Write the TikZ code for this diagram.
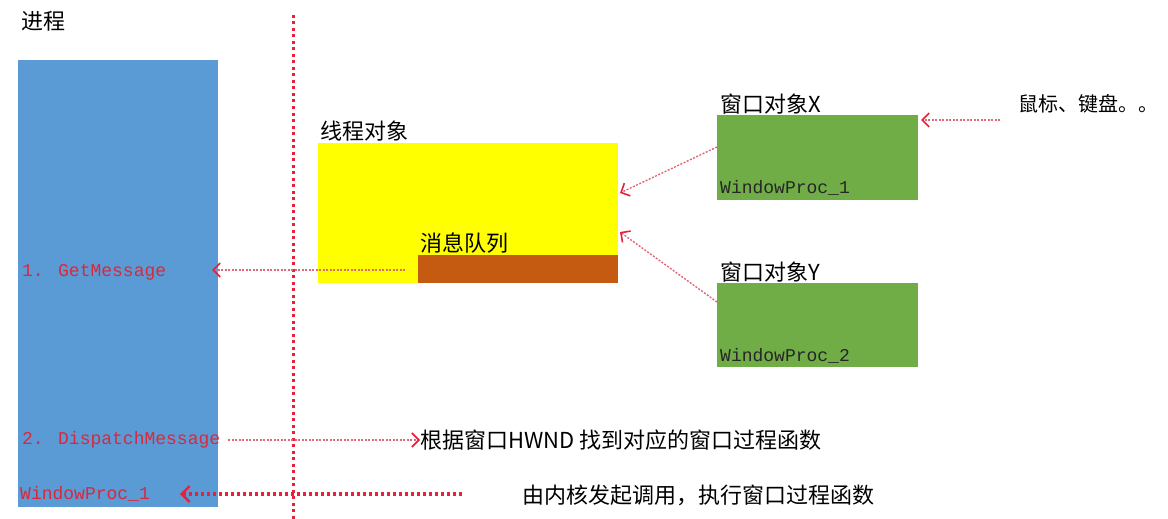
\documentclass[tikz,border=0pt]{standalone}
\usepackage{fontspec}
\newfontfamily\cjk{Noto Sans CJK SC}
\newfontfamily\mono{Liberation Mono}
\usetikzlibrary{arrows.meta}
\definecolor{procblue}{HTML}{5B9BD5}
\definecolor{thryellow}{HTML}{FFFF00}
\definecolor{qbrown}{HTML}{C55A11}
\definecolor{wgreen}{HTML}{70AD47}
\definecolor{lblred}{HTML}{D8283C}
\definecolor{arrred}{HTML}{E8203A}
\definecolor{linkpink}{HTML}{E06878}
\tikzset{
  box/.style={draw=none, inner sep=0pt, outer sep=0pt, anchor=north west},
  cjklabel/.style={inner sep=0pt, anchor=west, font=\cjk\fontsize{22}{24}\selectfont, text=black},
  monored/.style={inner sep=0pt, anchor=west, font=\mono\fontsize{18}{20}\selectfont, text=lblred},
  monodark/.style={inner sep=0pt, anchor=west, font=\mono\fontsize{18}{20}\selectfont, text=black!85},
  thinlink/.style={draw=linkpink, line width=1.4pt, dash pattern=on 2pt off 1.5pt,
    -{Straight Barb[length=7pt,width=14pt,line width=1.6pt,color=arrred]}},
  thicklink/.style={draw=arrred, line width=3.2pt, dash pattern=on 3pt off 3pt,
    -{Straight Barb[length=8pt,width=16pt,line width=2.4pt,color=arrred]}},
  divider/.style={draw=arrred, line width=3pt, dash pattern=on 3pt off 3.5pt}
}
\begin{document}
\begin{tikzpicture}[x=1pt,y=-1pt]
\useasboundingbox (0,0) rectangle (1168,519);
\fill[white] (0,0) rectangle (1168,519);

% process
\node[cjklabel] (proclbl) at (21,21) {进程};
\node[box, fill=procblue, minimum width=200pt, minimum height=447pt] (proc) at (18,60) {};

% divider
\coordinate (divtop) at (293,15);
\coordinate (divbot) at (293,519);
\draw[divider] (divtop) -- (divbot);

% thread object
\node[cjklabel] (thrlbl) at (320,131) {线程对象};
\node[box, fill=thryellow, minimum width=300pt, minimum height=140pt] (thread) at (318,143) {};
\node[box, fill=qbrown, minimum width=200pt, minimum height=28pt] (queue) at (418,255) {};
\node[cjklabel] (qlbl) at (420,243) {消息队列};

% window objects
\node[cjklabel] (wxlbl) at (720,104) {窗口对象X};
\node[box, fill=wgreen, minimum width=201pt, minimum height=85pt] (winx) at (717,115) {};
\node[monodark] (wpx) at (720,188) {WindowProc\_1};

\node[cjklabel] (wylbl) at (720,272) {窗口对象Y};
\node[box, fill=wgreen, minimum width=201pt, minimum height=84pt] (winy) at (717,283) {};
\node[monodark] (wpy) at (720,356) {WindowProc\_2};

\node[cjklabel, font=\cjk\fontsize{20}{22}\selectfont] (input) at (1018,104) {鼠标、键盘。。};

% process labels
\node[monored] (getmsg) at (22,272) {1. GetMessage};
\node[monored] (dispatch) at (22,440) {2. DispatchMessage};
\node[monored] (wproc) at (20,494) {WindowProc\_1};

\node[cjklabel] (find) at (420,440) {根据窗口HWND 找到对应的窗口过程函数};
\node[cjklabel] (kernel) at (522,495) {由内核发起调用，执行窗口过程函数};

% connectors
\coordinate (inputend) at (1000,120);
\coordinate (winxin) at (921,120);
\draw[thinlink] (inputend) -- (winxin);
\coordinate (winxout) at (717,147);
\coordinate (thrinx) at (620,193);
\draw[thinlink] (winxout) -- (thrinx);
\coordinate (winyout) at (717,302);
\coordinate (thriny) at (620,232);
\draw[thinlink] (winyout) -- (thriny);
\coordinate (qstart) at (405,270);
\coordinate (procin) at (212,270);
\draw[thinlink] (qstart) -- (procin);
\coordinate (dstart) at (228,440);
\draw[thinlink] (dstart) -- (find.west);
\coordinate (kstart) at (462,494);
\coordinate (kend) at (180,494);
\draw[thicklink] (kstart) -- (kend);
\end{tikzpicture}
\end{document}
